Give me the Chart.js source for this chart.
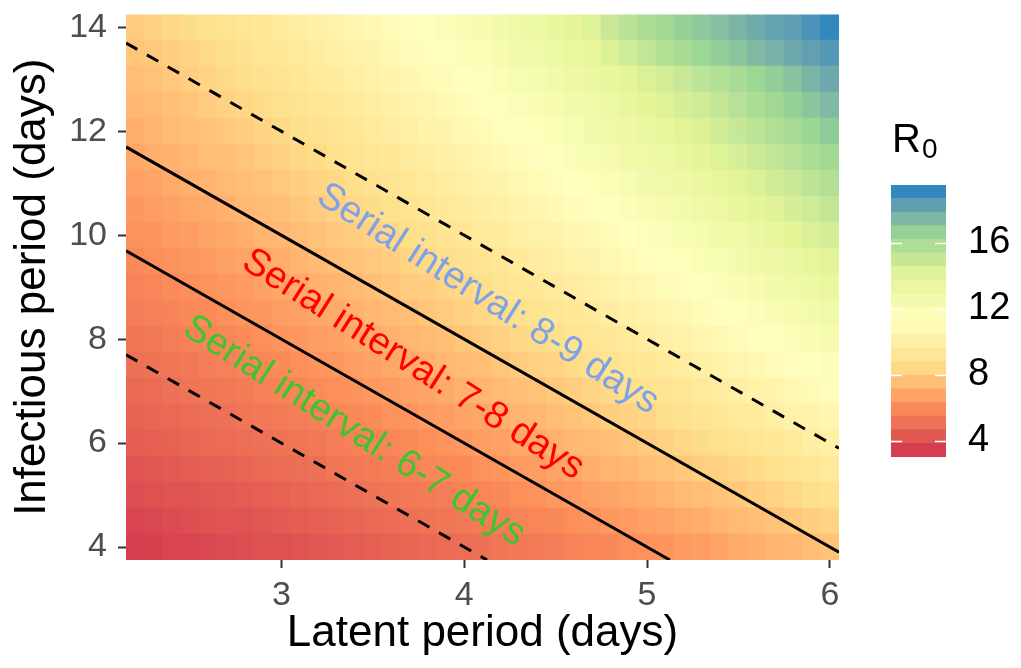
<!DOCTYPE html>
<html>
<head>
<meta charset="utf-8">
<script src="https://cdn.jsdelivr.net/npm/chart.js@4.4.1/dist/chart.umd.min.js"></script>
<style>
  html, body { margin: 0; padding: 0; background: #ffffff; }
  #wrap { position: relative; width: 1021px; height: 668px; overflow: hidden; background: #fff; }
  #main { position: absolute; left: 0; top: 0; }
  #bar { position: absolute; left: 861px; top: 155px; }
  #ltitle { position: absolute; left: 892px; top: 118px; font-family: 'Liberation Sans', Arial, Helvetica, sans-serif; color: #000; line-height: 1; white-space: nowrap; }
  #ltitle .r { font-size: 40px; }
  #ltitle .s { font-size: 28px; position: relative; top: 6px; margin-left: 1px; }
</style>
</head>
<body>
<div id="wrap">
  <canvas id="main" width="1021" height="668"></canvas>
  <canvas id="bar" width="160" height="332"></canvas>
  <div id="ltitle"><span class="r">R</span><span class="s">0</span></div>
</div>
<script>
// ---------------- DATA ----------------
// Latent period (days): heat-map columns
const latentDays = [2.2,2.3,2.4,2.5,2.6,2.7,2.8,2.9,3.0,3.1,3.2,3.3,3.4,3.5,3.6,3.7,3.8,3.9,4.0,4.1,4.2,4.3,4.4,4.5,4.6,4.7,4.8,4.9,5.0,5.1,5.2,5.3,5.4,5.5,5.6,5.7,5.8,5.9,6.0];
// Infectious period (days): heat-map rows
const infectiousDays = [4,4.5,5,5.5,6,6.5,7,7.5,8,8.5,9,9.5,10,10.5,11,11.5,12,12.5,13,13.5,14];
// R0 per cell, one row per infectious period (bottom -> top), one value per latent period
const r0Rows = [
  [3.0,3.1,3.2,3.2,3.3,3.4,3.5,3.6,3.6,3.7,3.8,3.9,4.0,4.1,4.2,4.3,4.4,4.5,4.6,4.7,4.9,5.0,5.1,5.2,5.4,5.5,5.6,5.8,5.9,6.0,6.2,6.3,6.5,6.7,6.8,7.0,7.1,7.3,7.5],
  [3.2,3.3,3.4,3.5,3.6,3.7,3.7,3.8,3.9,4.0,4.1,4.2,4.3,4.4,4.5,4.7,4.8,4.9,5.0,5.1,5.2,5.4,5.5,5.6,5.8,5.9,6.1,6.2,6.4,6.5,6.7,6.8,7.0,7.2,7.4,7.5,7.7,7.9,8.1],
  [3.5,3.6,3.7,3.7,3.8,3.9,4.0,4.1,4.2,4.3,4.4,4.5,4.7,4.8,4.9,5.0,5.1,5.2,5.4,5.5,5.6,5.8,5.9,6.1,6.2,6.4,6.5,6.7,6.8,7.0,7.2,7.3,7.5,7.7,7.9,8.1,8.3,8.5,8.7],
  [3.7,3.8,3.9,4.0,4.1,4.2,4.3,4.4,4.5,4.6,4.7,4.9,5.0,5.1,5.2,5.3,5.5,5.6,5.7,5.9,6.0,6.2,6.3,6.5,6.6,6.8,7.0,7.1,7.3,7.5,7.7,7.9,8.0,8.2,8.4,8.6,8.9,9.1,9.3],
  [4.0,4.1,4.2,4.3,4.4,4.5,4.6,4.7,4.8,4.9,5.0,5.2,5.3,5.4,5.5,5.7,5.8,6.0,6.1,6.3,6.4,6.6,6.7,6.9,7.1,7.2,7.4,7.6,7.8,8.0,8.2,8.4,8.6,8.8,9.0,9.2,9.4,9.7,9.9],
  [4.2,4.3,4.4,4.5,4.6,4.7,4.9,5.0,5.1,5.2,5.3,5.5,5.6,5.7,5.9,6.0,6.2,6.3,6.5,6.6,6.8,7.0,7.1,7.3,7.5,7.7,7.9,8.0,8.2,8.5,8.7,8.9,9.1,9.3,9.5,9.8,10.0,10.2,10.5],
  [4.4,4.5,4.7,4.8,4.9,5.0,5.1,5.3,5.4,5.5,5.7,5.8,5.9,6.1,6.2,6.4,6.5,6.7,6.9,7.0,7.2,7.4,7.5,7.7,7.9,8.1,8.3,8.5,8.7,8.9,9.1,9.4,9.6,9.8,10.1,10.3,10.6,10.8,11.1],
  [4.7,4.8,4.9,5.0,5.2,5.3,5.4,5.5,5.7,5.8,6.0,6.1,6.3,6.4,6.6,6.7,6.9,7.1,7.2,7.4,7.6,7.8,8.0,8.1,8.4,8.6,8.8,9.0,9.2,9.4,9.6,9.9,10.1,10.4,10.6,10.9,11.1,11.4,11.7],
  [4.9,5.0,5.2,5.3,5.4,5.5,5.7,5.8,6.0,6.1,6.3,6.4,6.6,6.7,6.9,7.1,7.2,7.4,7.6,7.8,8.0,8.2,8.4,8.6,8.8,9.0,9.2,9.4,9.7,9.9,10.1,10.4,10.6,10.9,11.2,11.4,11.7,12.0,12.3],
  [5.2,5.3,5.4,5.6,5.7,5.8,6.0,6.1,6.3,6.4,6.6,6.7,6.9,7.1,7.2,7.4,7.6,7.8,8.0,8.2,8.4,8.6,8.8,9.0,9.2,9.4,9.7,9.9,10.1,10.4,10.6,10.9,11.2,11.4,11.7,12.0,12.3,12.6,12.9],
  [5.4,5.5,5.7,5.8,5.9,6.1,6.2,6.4,6.6,6.7,6.9,7.0,7.2,7.4,7.6,7.8,7.9,8.1,8.3,8.5,8.8,9.0,9.2,9.4,9.6,9.9,10.1,10.4,10.6,10.9,11.1,11.4,11.7,12.0,12.3,12.6,12.9,13.2,13.5],
  [5.6,5.8,5.9,6.1,6.2,6.4,6.5,6.7,6.8,7.0,7.2,7.4,7.5,7.7,7.9,8.1,8.3,8.5,8.7,8.9,9.1,9.4,9.6,9.8,10.1,10.3,10.6,10.8,11.1,11.4,11.6,11.9,12.2,12.5,12.8,13.1,13.4,13.8,14.1],
  [5.9,6.0,6.2,6.3,6.5,6.6,6.8,7.0,7.1,7.3,7.5,7.7,7.9,8.0,8.2,8.5,8.6,8.9,9.1,9.3,9.5,9.8,10.0,10.2,10.5,10.7,11.0,11.3,11.5,11.8,12.1,12.4,12.7,13.0,13.4,13.7,14.0,14.4,14.7],
  [6.1,6.3,6.4,6.6,6.7,6.9,7.1,7.2,7.4,7.6,7.8,8.0,8.2,8.4,8.6,8.8,9.0,9.2,9.5,9.7,9.9,10.2,10.4,10.7,10.9,11.2,11.4,11.7,12.0,12.3,12.6,12.9,13.2,13.6,13.9,14.2,14.6,14.9,15.3],
  [6.4,6.5,6.7,6.9,7.0,7.2,7.4,7.5,7.7,7.9,8.1,8.3,8.5,8.7,8.9,9.1,9.4,9.6,9.8,10.1,10.3,10.6,10.8,11.1,11.3,11.6,11.9,12.2,12.5,12.8,13.1,13.4,13.8,14.1,14.4,14.8,15.1,15.5,15.9],
  [6.6,6.8,6.9,7.1,7.3,7.4,7.6,7.8,8.0,8.2,8.4,8.6,8.8,9.0,9.2,9.5,9.7,9.9,10.2,10.4,10.7,11.0,11.2,11.5,11.8,12.1,12.3,12.7,13.0,13.3,13.6,13.9,14.3,14.6,15.0,15.3,15.7,16.1,16.5],
  [6.8,7.0,7.2,7.4,7.5,7.7,7.9,8.1,8.3,8.5,8.7,8.9,9.1,9.4,9.6,9.8,10.1,10.3,10.6,10.8,11.1,11.4,11.6,11.9,12.2,12.5,12.8,13.1,13.4,13.8,14.1,14.4,14.8,15.2,15.5,15.9,16.3,16.7,17.1],
  [7.1,7.2,7.4,7.6,7.8,8.0,8.2,8.4,8.6,8.8,9.0,9.2,9.5,9.7,9.9,10.2,10.4,10.7,10.9,11.2,11.5,11.8,12.0,12.3,12.6,12.9,13.2,13.6,13.9,14.3,14.6,14.9,15.3,15.7,16.1,16.5,16.9,17.3,17.7],
  [7.3,7.5,7.7,7.9,8.1,8.3,8.5,8.7,8.9,9.1,9.3,9.5,9.8,10.0,10.3,10.5,10.8,11.0,11.3,11.6,11.9,12.2,12.4,12.7,13.1,13.4,13.7,14.0,14.4,14.7,15.1,15.5,15.8,16.2,16.6,17.0,17.4,17.9,18.3],
  [7.6,7.7,7.9,8.1,8.3,8.5,8.7,9.0,9.2,9.4,9.6,9.9,10.1,10.3,10.6,10.9,11.1,11.4,11.7,11.9,12.3,12.6,12.9,13.2,13.5,13.8,14.4,14.9,15.3,15.8,16.2,16.6,17.0,17.3,17.7,18.0,18.3,18.6,18.9],
  [7.8,8.0,8.2,8.4,8.6,8.8,9.0,9.2,9.5,9.7,9.9,10.2,10.4,10.7,10.9,11.2,11.5,11.8,12.0,12.3,12.6,13.0,13.3,13.6,13.9,14.3,15.1,15.6,16.1,16.5,16.9,17.2,17.5,17.9,18.2,18.5,18.7,19.1,19.5]
];
// Axis / legend tick labels
const xTickValues = [3, 4, 5, 6];
const yTickValues = [4, 6, 8, 10, 12, 14];
const legendTickValues = [4, 8, 12, 16];
// Serial-interval reference lines (days) and their end points
const serialIntervals = [6, 7, 8, 9];
const lineStartX = [2.15, 2.15, 2.15, 2.15];
const lineStartY = [7.7, 9.7, 11.7, 13.7];
const lineEndX   = [4.125, 5.125, 6.05, 6.05];
const lineEndY   = [3.75, 3.75, 3.9, 5.9];
const lineDashed = [true, false, false, true];
// Text labels
const labelTexts = ['Serial interval: 8-9 days', 'Serial interval: 7-8 days', 'Serial interval: 6-7 days'];

// ---------------- STYLE ----------------
const FONT = "'Liberation Sans', Arial, Helvetica, sans-serif";
const labelStyle = [
  { x: 4.129, y: 8.77, color: '#7FA2E6' },
  { x: 3.720, y: 7.51, color: '#FF0000' },
  { x: 3.398, y: 6.23, color: '#3EC52E' }
];
const labelAngle = 32.5;
const labelSize = 38;
const spectral = ['#D53E4F', '#FC8D59', '#FEE08B', '#FFFFBF', '#E6F598', '#99D594', '#3288BD'];

// ---------------- COLOUR SCALE (CIELAB interpolation like ggplot) ----------------
function hexToRgb(h) { const n = parseInt(h.slice(1), 16); return [(n >> 16) & 255, (n >> 8) & 255, n & 255]; }
function rgbToLab(c) {
  const lin = v => { v /= 255; return v <= 0.04045 ? v / 12.92 : Math.pow((v + 0.055) / 1.055, 2.4); };
  const R = lin(c[0]), G = lin(c[1]), B = lin(c[2]);
  const X = (0.4124 * R + 0.3576 * G + 0.1805 * B) / 0.95047;
  const Y = (0.2126 * R + 0.7152 * G + 0.0722 * B);
  const Z = (0.0193 * R + 0.1192 * G + 0.9505 * B) / 1.08883;
  const f = t => t > 0.008856 ? Math.cbrt(t) : 7.787 * t + 16 / 116;
  const fx = f(X), fy = f(Y), fz = f(Z);
  return [116 * fy - 16, 500 * (fx - fy), 200 * (fy - fz)];
}
function labToRgb(l) {
  const fy = (l[0] + 16) / 116, fx = fy + l[1] / 500, fz = fy - l[2] / 200;
  const inv = t => { const t3 = t * t * t; return t3 > 0.008856 ? t3 : (t - 16 / 116) / 7.787; };
  const X = inv(fx) * 0.95047, Y = inv(fy), Z = inv(fz) * 1.08883;
  let R = 3.2406 * X - 1.5372 * Y - 0.4986 * Z;
  let G = -0.9689 * X + 1.8758 * Y + 0.0415 * Z;
  let B = 0.0557 * X - 0.2040 * Y + 1.0570 * Z;
  const g = v => { v = v <= 0.0031308 ? 12.92 * v : 1.055 * Math.pow(v, 1 / 2.4) - 0.055; return Math.max(0, Math.min(255, Math.round(v * 255))); };
  return [g(R), g(G), g(B)];
}
const labStops = spectral.map(h => rgbToLab(hexToRgb(h)));
let vMin = Infinity, vMax = -Infinity;
r0Rows.forEach(r => r.forEach(v => { if (v < vMin) vMin = v; if (v > vMax) vMax = v; }));
function colorFor(v) {
  let t = (v - vMin) / (vMax - vMin);
  t = Math.max(0, Math.min(1, t));
  const s = t * (labStops.length - 1);
  const i = Math.min(Math.floor(s), labStops.length - 2);
  const f = s - i;
  const a = labStops[i], b = labStops[i + 1];
  const c = labToRgb([a[0] + (b[0] - a[0]) * f, a[1] + (b[1] - a[1]) * f, a[2] + (b[2] - a[2]) * f]);
  return 'rgb(' + c[0] + ',' + c[1] + ',' + c[2] + ')';
}

// ---------------- MAIN CHART ----------------
const halfRow = (infectiousDays[1] - infectiousDays[0]) / 2;
const heatDatasets = infectiousDays.map((I, i) => ({
  type: 'bar',
  order: 10,
  data: latentDays.map(L => ({ x: L, y: [I - halfRow, I + halfRow] })),
  backgroundColor: r0Rows[i].map(colorFor),
  borderWidth: 0,
  grouped: false,
  barPercentage: 1,
  categoryPercentage: 1,
  inflateAmount: 0.6
}));
const lineDatasets = serialIntervals.map((s, k) => ({
  type: 'line',
  order: 0,
  label: 'Serial interval ' + s,
  data: [{ x: lineStartX[k], y: lineStartY[k] }, { x: lineEndX[k], y: lineEndY[k] }],
  borderColor: '#000000',
  borderWidth: 3,
  borderDash: lineDashed[k] ? [13, 11] : [],
  pointRadius: 0,
  fill: false,
  tension: 0
}));

const labelPlugin = {
  id: 'serialLabels',
  afterDatasetsDraw(chart) {
    const { ctx, scales } = chart;
    ctx.save();
    ctx.font = labelSize + 'px ' + FONT;
    ctx.textAlign = 'center';
    ctx.textBaseline = 'middle';
    labelTexts.forEach((t, k) => {
      const st = labelStyle[k];
      ctx.save();
      ctx.translate(scales.x.getPixelForValue(st.x), scales.y.getPixelForValue(st.y));
      ctx.rotate(labelAngle * Math.PI / 180);
      ctx.fillStyle = st.color;
      ctx.fillText(t, 0, 0);
      ctx.restore();
    });
    ctx.restore();
  }
};

const tickGrid = { display: true, offset: false, drawOnChartArea: false, drawTicks: true, tickLength: 8, tickColor: '#333333', tickWidth: 2 };

new Chart(document.getElementById('main'), {
  type: 'bar',
  data: { datasets: [...lineDatasets, ...heatDatasets] },
  options: {
    responsive: false,
    animation: false,
    devicePixelRatio: 1,
    layout: { padding: { left: 6, right: 182, top: 10, bottom: 8 } },
    plugins: { legend: { display: false }, tooltip: { enabled: false }, title: { display: false } },
    scales: {
      x: {
        type: 'linear', min: 2.15, max: 6.05, offset: false,
        afterBuildTicks: s => { s.ticks = xTickValues.map(v => ({ value: v })); },
        afterFit: s => { s.height = 100; },
        ticks: { font: { size: 34, family: FONT, lineHeight: 1.2 }, color: '#4D4D4D', padding: 7, maxRotation: 0, autoSkip: false },
        grid: tickGrid,
        border: { display: false },
        title: { display: true, text: 'Latent period (days)', color: '#000000', font: { size: 44, family: FONT }, padding: 0 }
      },
      y: {
        type: 'linear', min: 3.75, max: 14.25,
        afterBuildTicks: s => { s.ticks = yTickValues.map(v => ({ value: v })); },
        afterFit: s => { s.width = 120; },
        ticks: { font: { size: 34, family: FONT, lineHeight: 0.2 }, color: '#4D4D4D', padding: 11, autoSkip: false },
        grid: tickGrid,
        border: { display: false },
        title: { display: true, text: 'Infectious period (days)', color: '#000000', font: { size: 44, family: FONT }, padding: 0 }
      }
    }
  },
  plugins: [labelPlugin]
});

// ---------------- COLOUR BAR LEGEND ----------------
const nbin = 20;
const binEdge = k => vMin + (vMax - vMin) * k / nbin;
const binDatasets = [];
for (let k = 0; k < nbin; k++) {
  const v = vMin + (vMax - vMin) * k / (nbin - 1);
  binDatasets.push({
    data: [[binEdge(k), binEdge(k + 1)]],
    backgroundColor: colorFor(v),
    borderWidth: 0, grouped: false, barPercentage: 1, categoryPercentage: 1, inflateAmount: 0.5
  });
}
const barTicksPlugin = {
  id: 'barTicks',
  afterDatasetsDraw(chart) {
    const { ctx, chartArea: a, scales } = chart;
    const len = (a.right - a.left) / 5;
    ctx.save();
    ctx.strokeStyle = '#ffffff';
    ctx.lineWidth = 1.5;
    legendTickValues.forEach(v => {
      const py = Math.round(scales.y.getPixelForValue(v)) + 0.5;
      ctx.beginPath();
      ctx.moveTo(a.left, py); ctx.lineTo(a.left + len, py);
      ctx.moveTo(a.right - len, py); ctx.lineTo(a.right, py);
      ctx.stroke();
    });
    ctx.restore();
  }
};
new Chart(document.getElementById('bar'), {
  type: 'bar',
  data: { labels: ['R0'], datasets: binDatasets },
  options: {
    responsive: false,
    animation: false,
    devicePixelRatio: 1,
    layout: { padding: { left: 30, right: 0, top: 30, bottom: 30 } },
    plugins: { legend: { display: false }, tooltip: { enabled: false } },
    scales: {
      x: { display: false },
      y: {
        position: 'right', min: vMin, max: vMax,
        afterBuildTicks: s => { s.ticks = legendTickValues.map(v => ({ value: v })); },
        afterFit: s => { s.width = 75; },
        ticks: { font: { size: 38, family: FONT, lineHeight: 0.2 }, color: '#000000', padding: 14 },
        grid: { display: false },
        border: { display: false }
      }
    }
  },
  plugins: [barTicksPlugin]
});
</script>
</body>
</html>
